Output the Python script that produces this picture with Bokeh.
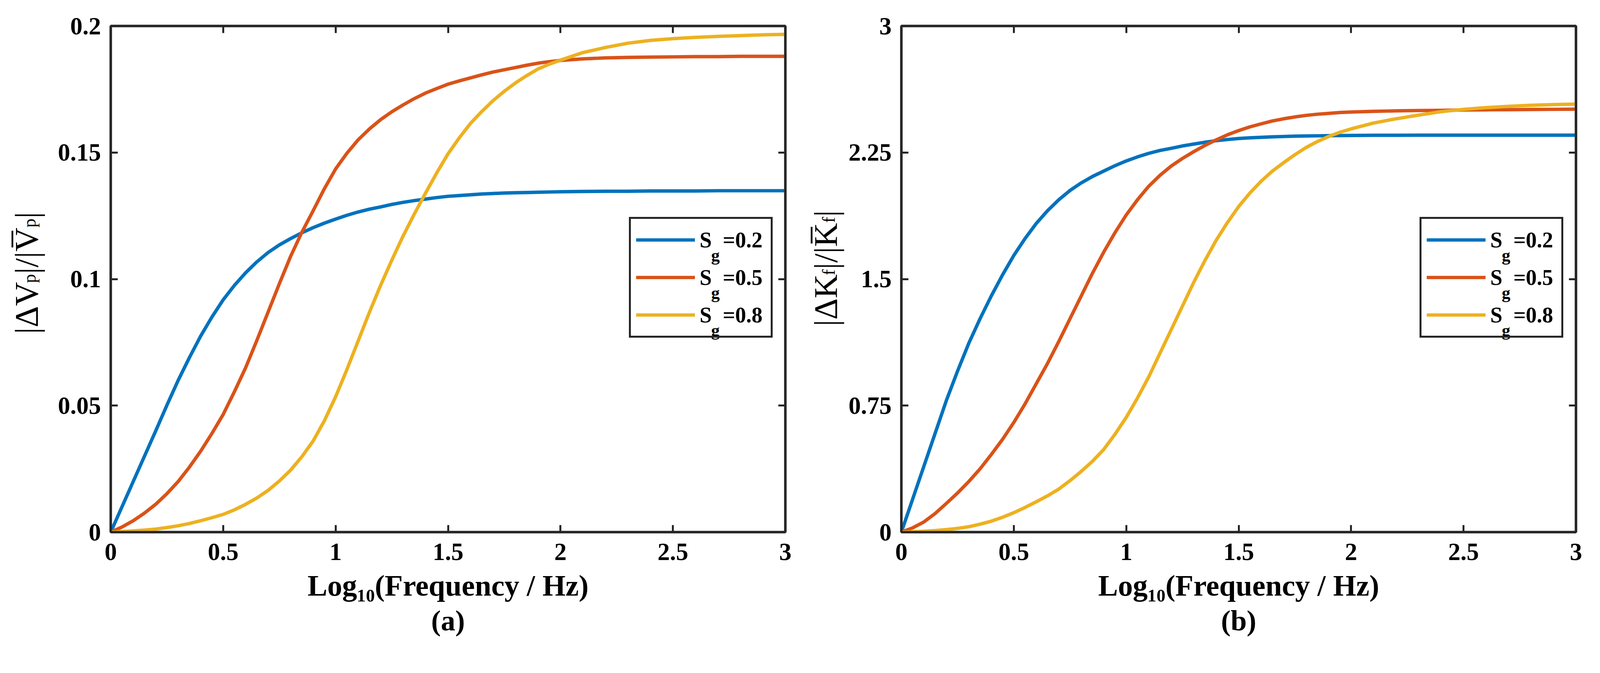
import math
from bokeh.plotting import figure
from bokeh.models import Range1d, FixedTicker, LinearAxis, Legend, LegendItem, Label, Title
from bokeh.layouts import row
from bokeh.embed import file_html
from bokeh.resources import INLINE

# ---------------- data ----------------
log_freq = [0.0, 0.05, 0.1, 0.15, 0.2, 0.25, 0.3, 0.35, 0.4, 0.45,
            0.5, 0.55, 0.6, 0.65, 0.7, 0.75, 0.8, 0.85, 0.9, 0.95,
            1.0, 1.05, 1.1, 1.15, 1.2, 1.25, 1.3, 1.35, 1.4, 1.45,
            1.5, 1.55, 1.6, 1.65, 1.7, 1.75, 1.8, 1.85, 1.9, 1.95,
            2.0, 2.1, 2.2, 2.3, 2.4, 2.5, 2.6, 2.7, 2.8, 2.9, 3.0]

series_names = ["0.2", "0.5", "0.8"]

# panel (a): |dVp| / |Vp|
vp_sg02 = [0.0, 0.0100, 0.0200, 0.0300, 0.0400, 0.0502, 0.0600, 0.0690, 0.0775, 0.0850,
           0.0918, 0.0975, 0.1025, 0.1068, 0.1105, 0.1135, 0.1160, 0.1183, 0.1203, 0.1221,
           0.1237, 0.1252, 0.1265, 0.1276, 0.1285, 0.1295, 0.1303, 0.1310, 0.1316, 0.1322,
           0.1327, 0.1330, 0.1333, 0.1336, 0.1338, 0.1340, 0.1341, 0.1342, 0.1343, 0.1344,
           0.1345, 0.1346, 0.1347, 0.1347, 0.1348, 0.1348, 0.1348, 0.1349, 0.1349, 0.1349, 0.1349]
vp_sg05 = [0.0, 0.0020, 0.0045, 0.0075, 0.0110, 0.0152, 0.0200, 0.0257, 0.0320, 0.0390,
           0.0465, 0.0555, 0.0650, 0.0758, 0.0870, 0.0982, 0.1090, 0.1185, 0.1270, 0.1357,
           0.1435, 0.1497, 0.1550, 0.1593, 0.1630, 0.1661, 0.1688, 0.1713, 0.1735, 0.1753,
           0.1770, 0.1783, 0.1795, 0.1807, 0.1818, 0.1827, 0.1836, 0.1845, 0.1853, 0.1859,
           0.1864, 0.1870, 0.1874, 0.1876, 0.1877, 0.1878, 0.1879, 0.1879, 0.1880, 0.1880, 0.1880]
vp_sg08 = [0.0, 0.0002, 0.0005, 0.0008, 0.0012, 0.0018, 0.0025, 0.0034, 0.0045, 0.0057,
           0.0070, 0.0088, 0.0110, 0.0135, 0.0165, 0.0202, 0.0245, 0.0298, 0.0360, 0.0440,
           0.0535, 0.0642, 0.0755, 0.0868, 0.0975, 0.1075, 0.1170, 0.1257, 0.1340, 0.1420,
           0.1495, 0.1558, 0.1615, 0.1662, 0.1705, 0.1742, 0.1775, 0.1804, 0.1830, 0.1849,
           0.1865, 0.1895, 0.1915, 0.1932, 0.1943, 0.1950, 0.1955, 0.1959, 0.1962, 0.1965, 0.1967]

# panel (b): |dKf| / |Kf|
kf_sg02 = [0.0, 0.195, 0.39, 0.585, 0.78, 0.955, 1.12, 1.265, 1.40, 1.525,
           1.64, 1.74, 1.83, 1.905, 1.97, 2.025, 2.07, 2.108, 2.14, 2.172,
           2.20, 2.224, 2.245, 2.262, 2.275, 2.289, 2.30, 2.311, 2.32, 2.327,
           2.333, 2.337, 2.340, 2.343, 2.345, 2.347, 2.348, 2.349, 2.350, 2.3505,
           2.351, 2.352, 2.352, 2.353, 2.353, 2.353, 2.353, 2.353, 2.353, 2.353, 2.353]
kf_sg05 = [0.0, 0.025, 0.06, 0.11, 0.17, 0.232, 0.30, 0.375, 0.46, 0.55,
           0.65, 0.76, 0.88, 1.00, 1.13, 1.265, 1.40, 1.535, 1.66, 1.775,
           1.88, 1.97, 2.05, 2.115, 2.17, 2.215, 2.255, 2.292, 2.325, 2.355,
           2.38, 2.402, 2.42, 2.437, 2.45, 2.461, 2.47, 2.477, 2.482, 2.487,
           2.490, 2.494, 2.497, 2.499, 2.500, 2.502, 2.503, 2.504, 2.505, 2.506, 2.507]
kf_sg08 = [0.0, 0.002, 0.005, 0.009, 0.015, 0.022, 0.032, 0.047, 0.065, 0.088,
           0.115, 0.146, 0.18, 0.215, 0.255, 0.305, 0.36, 0.42, 0.49, 0.58,
           0.68, 0.795, 0.92, 1.06, 1.20, 1.34, 1.48, 1.61, 1.73, 1.835,
           1.93, 2.01, 2.08, 2.14, 2.19, 2.237, 2.28, 2.315, 2.345, 2.37,
           2.39, 2.425, 2.45, 2.472, 2.492, 2.506, 2.516, 2.524, 2.530, 2.534, 2.537]

x_ticks = [0, 0.5, 1, 1.5, 2, 2.5, 3]
x_tick_labels = ["0", "0.5", "1", "1.5", "2", "2.5", "3"]
vp_ticks = [0, 0.05, 0.1, 0.15, 0.2]
vp_tick_labels = ["0", "0.05", "0.1", "0.15", "0.2"]
kf_ticks = [0, 0.75, 1.5, 2.25, 3]
kf_tick_labels = ["0", "0.75", "1.5", "2.25", "3"]

x_label = "Log\u2081\u2080(Frequency / Hz)"

# ---------------- styling / geometry (CSS px) ----------------
SERIF = "Liberation Serif"
AX = "#262626"
COLORS = ["#0072BD", "#D95319", "#EDB120"]
FW, FH = 1727, 1295
TOP, BOTTOM = 66, 290
LINE_W = 8.7

LEG_X, LEG_Y = 1327, 497
LEG_PAD, LEG_GLYPH_W, LEG_ITEM_H, LEG_SPACING, LEG_STANDOFF = 13, 151, 81, 15, 12
LEG_FONT = 56

# Times / Liberation Serif advance widths (em) used to compose the y labels
WID = {"|": 0.200, "\u0394": 0.612, "V": 0.722, "K": 0.722, "/": 0.278,
       "p": 0.500, "f": 0.333, "\u0305": 0.0}


def text_w(t, fs):
    return sum(WID.get(c, 0.5) for c in t) * fs


def style_axis(ax):
    ax.axis_line_color = AX
    ax.axis_line_width = 6
    ax.major_tick_line_color = AX
    ax.major_tick_line_width = 5
    ax.major_tick_in = 18
    ax.major_tick_out = 0
    ax.minor_tick_line_color = None


def make_label_fig(width, pieces, base_x, center_y):
    f = figure(frame_width=width, frame_height=FH,
               x_range=Range1d(0, width), y_range=Range1d(0, FH),
               output_backend="svg", toolbar_location=None,
               x_axis_location=None, y_axis_location=None,
               min_border_left=0, min_border_right=0,
               min_border_top=TOP, min_border_bottom=BOTTOM)
    f.title.visible = False
    f.grid.visible = False
    f.outline_line_color = None
    f.background_fill_color = "white"
    f.border_fill_color = "white"
    total = sum(text_w(t, fs) for t, fs, _ in pieces)
    pos = center_y - total / 2
    for t, fs, shift in pieces:
        f.add_layout(Label(x=base_x + shift, y=pos, text=t, angle=math.pi / 2,
                           text_font=SERIF, text_font_size=f"{fs}px",
                           text_color="black", text_align="left",
                           text_baseline="alphabetic", level="overlay"))
        pos += text_w(t, fs)
    return f


def make_panel(ymax, yticks, ytick_labels, ys, tag, border_left, border_right):
    p = figure(frame_width=FW, frame_height=FH,
               x_range=Range1d(0, 3), y_range=Range1d(0, ymax),
               output_backend="svg", toolbar_location=None,
               min_border_left=border_left, min_border_right=border_right,
               min_border_top=TOP, min_border_bottom=BOTTOM)
    p.title.visible = False
    p.grid.visible = False
    p.background_fill_color = "white"
    p.border_fill_color = "white"
    p.outline_line_color = AX
    p.outline_line_width = 6
    p.outline_line_alpha = 1.0

    xa = p.xaxis[0]
    ya = p.yaxis[0]
    xa.ticker = FixedTicker(ticks=x_ticks)
    xa.major_label_overrides = dict(zip(x_ticks, x_tick_labels))
    ya.ticker = FixedTicker(ticks=yticks)
    ya.major_label_overrides = dict(zip(yticks, ytick_labels))
    for ax in (xa, ya):
        style_axis(ax)
        ax.major_label_text_font = SERIF
        ax.major_label_text_font_style = "bold"
        ax.major_label_text_font_size = "63px"
        ax.major_label_text_color = "black"
    xa.major_label_standoff = 29
    ya.major_label_standoff = 25
    xa.axis_label = x_label
    xa.axis_label_text_font = SERIF
    xa.axis_label_text_font_style = "bold"
    xa.axis_label_text_font_size = "76px"
    xa.axis_label_text_color = "black"
    xa.axis_label_standoff = 20

    for side, tick in (("above", x_ticks), ("right", yticks)):
        ax2 = LinearAxis(ticker=FixedTicker(ticks=tick))
        style_axis(ax2)
        ax2.major_label_text_font_size = "1px"
        ax2.major_label_text_color = None
        ax2.major_label_standoff = 0
        p.add_layout(ax2, side)

    p.add_layout(Title(text=tag, align="center", text_font=SERIF,
                       text_font_style="bold", text_font_size="74px",
                       text_color="black", standoff=4), "below")

    renderers = []
    for yv, c in zip(ys, COLORS):
        r = p.line(log_freq, yv, line_color=c, line_width=LINE_W, line_join="round")
        renderers.append(r)

    items = [LegendItem(label="S\u00a0\u00a0=" + n, renderers=[r])
             for n, r in zip(series_names, renderers)]
    leg = Legend(items=items, location=(LEG_X, LEG_Y), orientation="vertical",
                 padding=LEG_PAD, spacing=LEG_SPACING, margin=0,
                 glyph_width=LEG_GLYPH_W, glyph_height=LEG_ITEM_H,
                 label_height=LEG_ITEM_H, label_width=169,
                 label_standoff=LEG_STANDOFF,
                 border_line_color=AX, border_line_width=5, border_line_alpha=1.0,
                 background_fill_color="white", background_fill_alpha=0.0,
                 label_text_font=SERIF, label_text_font_style="bold",
                 label_text_font_size=f"{LEG_FONT}px", label_text_color="black")
    p.add_layout(leg)

    sx = 3.0 / FW
    sy = ymax / FH
    leg_h = 2 * LEG_PAD + 3 * LEG_ITEM_H + 2 * LEG_SPACING
    gx = LEG_X + LEG_PAD + LEG_GLYPH_W + LEG_STANDOFF + 34
    for i in range(3):
        cy = LEG_Y + leg_h - LEG_PAD - LEG_ITEM_H / 2 - i * (LEG_ITEM_H + LEG_SPACING)
        p.add_layout(Label(x=gx * sx, y=(cy - 34) * sy, text="g",
                           text_font=SERIF, text_font_style="bold",
                           text_font_size="44px", text_color="black",
                           text_align="left", text_baseline="alphabetic",
                           level="overlay"))
    return p


BIG, SUB, SH = 85, 46, 8
vp_label = [("|\u0394V", BIG, 0), ("p", SUB, SH), ("|/|V\u0305", BIG, 0), ("p", SUB, SH), ("|", BIG, 0)]
kf_label = [("|\u0394K", BIG, 0), ("f", SUB, SH), ("|/|K\u0305", BIG, 0), ("f", SUB, SH), ("|", BIG, 0)]

lab1 = make_label_fig(145, vp_label, 67, 663)
p1 = make_panel(0.2, vp_ticks, vp_tick_labels, [vp_sg02, vp_sg05, vp_sg08], "(a)", 137, 29)
lab2 = make_label_fig(130, kf_label, 74, 675)
p2 = make_panel(3.0, kf_ticks, kf_tick_labels, [kf_sg02, kf_sg05, kf_sg08], "(b)", 130, 39)

layout = row(lab1, p1, lab2, p2)
open("out.html", "w").write(file_html(layout, INLINE))
